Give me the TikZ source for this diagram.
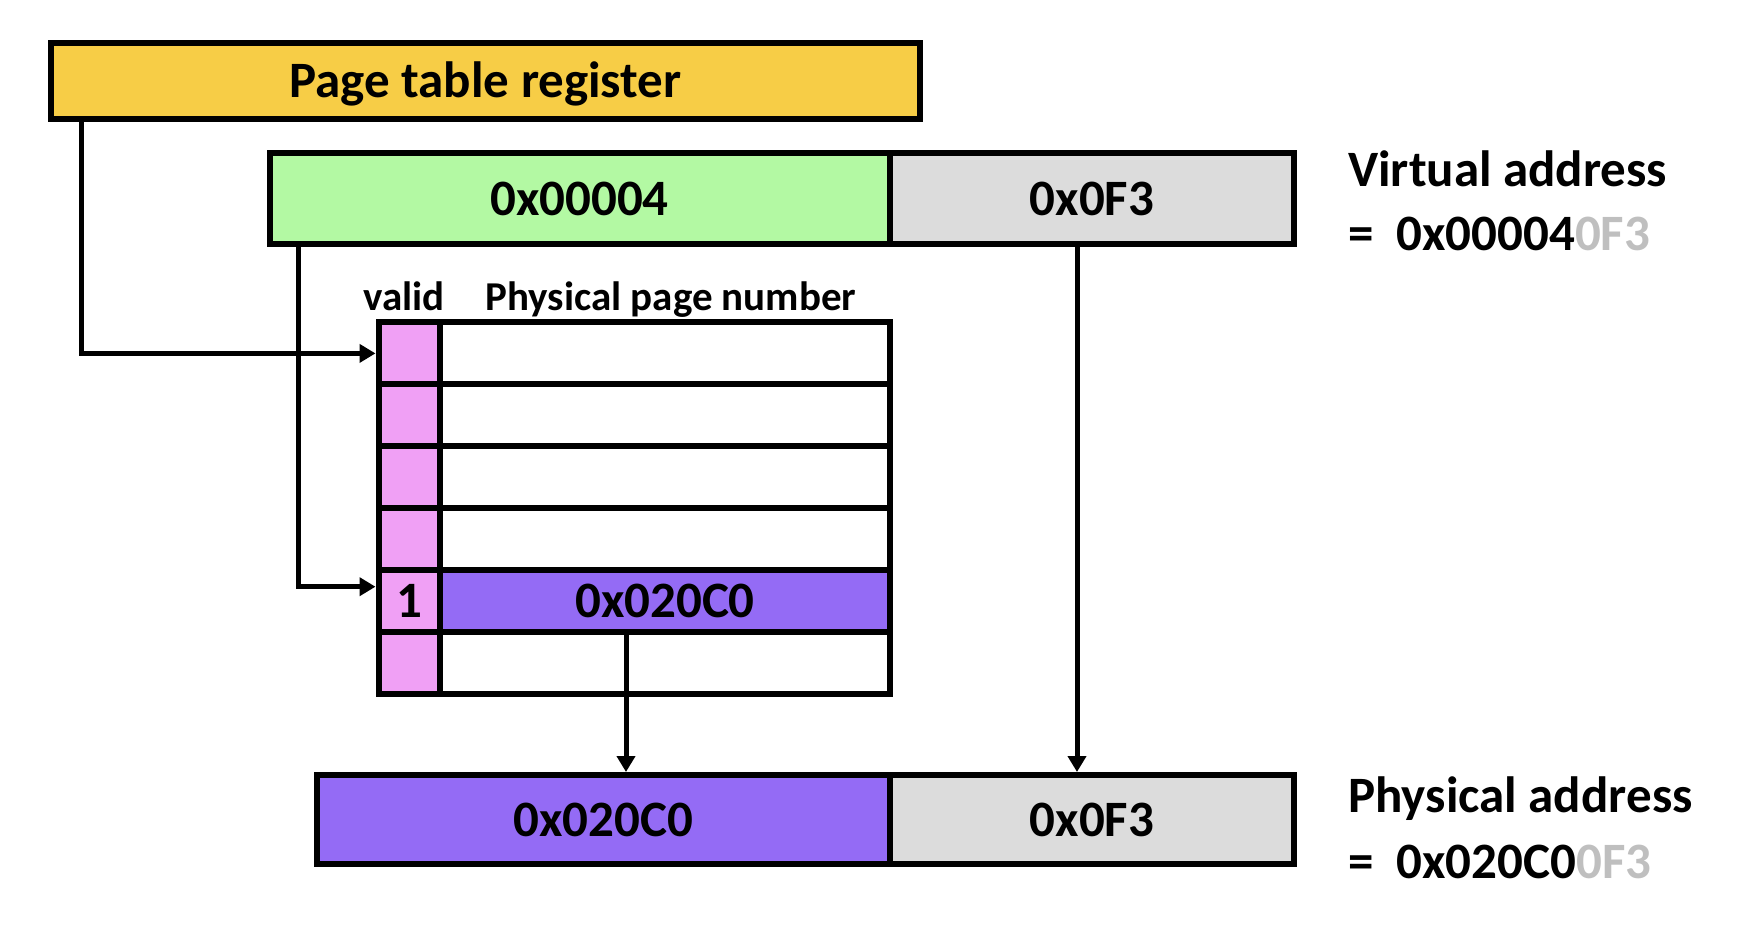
\documentclass[tikz,border=0pt]{standalone}
\usepackage{fontspec}
\setmainfont{Carlito}
\usetikzlibrary{arrows.meta,calc}
\definecolor{regyellow}{HTML}{F7CD46}
\definecolor{vpngreen}{HTML}{B3F9A3}
\definecolor{offgray}{HTML}{DCDCDC}
\definecolor{validpink}{HTML}{F0A0F5}
\definecolor{ppnpurple}{HTML}{946BF5}
\definecolor{lighttext}{HTML}{BFBFBF}
\newcommand\FBig{\fontsize{51}{61}\selectfont\bfseries}
\newcommand\FMid{\fontsize{41}{49}\selectfont\bfseries}
\begin{document}
\begin{tikzpicture}[x=1pt,y=-1pt,
  box/.style={draw=black,line width=6pt,inner sep=0pt,font=\FBig,text height=33pt,text depth=0pt},
  cell/.style={draw=black,line width=6pt,inner sep=0pt,minimum height=61.83pt,font=\FBig,text height=33pt,text depth=0pt},
  vcell/.style={cell,fill=validpink,minimum width=61.5pt},
  pcell/.style={cell,fill=white,minimum width=450pt},
  conn/.style={draw=black,line width=5pt,-{Triangle[length=16pt,width=18pt]}},
  hdr/.style={font=\FMid,anchor=base,inner sep=0pt},
  side/.style={font=\FBig,anchor=base west,inner sep=0pt}]
\useasboundingbox (0,0) rectangle (1746,930);
% page table register
\node[box,fill=regyellow,minimum width=869pt,minimum height=76pt] (ptr) at (485.5,81) {Page table register};
% virtual address
\node[box,fill=vpngreen,minimum width=620pt,minimum height=91pt] (vpn) at (579.5,198.5) {0x00004};
\node[box,fill=offgray,minimum width=404pt,minimum height=91pt] (vpo) at (1092,198.5) {0x0F3};
\node[side] (valab) at (1348,186) {Virtual address};
\node[side] (vaval) at (1348,250) {=\hspace{0.45em}0x00004\textcolor{lighttext}{0F3}};
% table headers
\node[hdr] (hvalid) at (404,310) {valid};
\node[hdr] (hppn) at (671,310) {Physical page number};
% page table rows
\node[vcell] (r1v) at (409.25,353.4) {};
\node[pcell] (r1p) at (665,353.4) {};
\node[vcell] (r2v) at (409.25,415.2) {};
\node[pcell] (r2p) at (665,415.2) {};
\node[vcell] (r3v) at (409.25,477.1) {};
\node[pcell] (r3p) at (665,477.1) {};
\node[vcell] (r4v) at (409.25,538.9) {};
\node[pcell] (r4p) at (665,538.9) {};
\node[vcell] (r5v) at (409.25,600.7) {1};
\node[pcell,fill=ppnpurple] (r5p) at (665,600.7) {0x020C0};
\node[vcell] (r6v) at (409.25,662.6) {};
\node[pcell] (r6p) at (665,662.6) {};
% physical address
\node[box,fill=ppnpurple,minimum width=573pt,minimum height=89pt] (ppa) at (603.5,819.5) {0x020C0};
\node[box,fill=offgray,minimum width=404pt,minimum height=89pt] (ppo) at (1092,819.5) {0x0F3};
\node[side] (palab) at (1348,812) {Physical address};
\node[side] (paval) at (1348,878) {=\hspace{0.45em}0x020C0\textcolor{lighttext}{0F3}};
% connectors
\draw[conn] ([xshift=33pt]ptr.south west) |- (r1v.west);
\draw[conn] ([xshift=32pt]vpn.south west) |- ([yshift=14pt]r5v.west);
\draw[conn] ([xshift=-39pt]r5p.south) -- ([xshift=-39pt]r5p.south |- ppa.north);
\draw[conn] ([xshift=-15pt]vpo.south) -- ([xshift=-15pt]vpo.south |- ppo.north);
\end{tikzpicture}
\end{document}
